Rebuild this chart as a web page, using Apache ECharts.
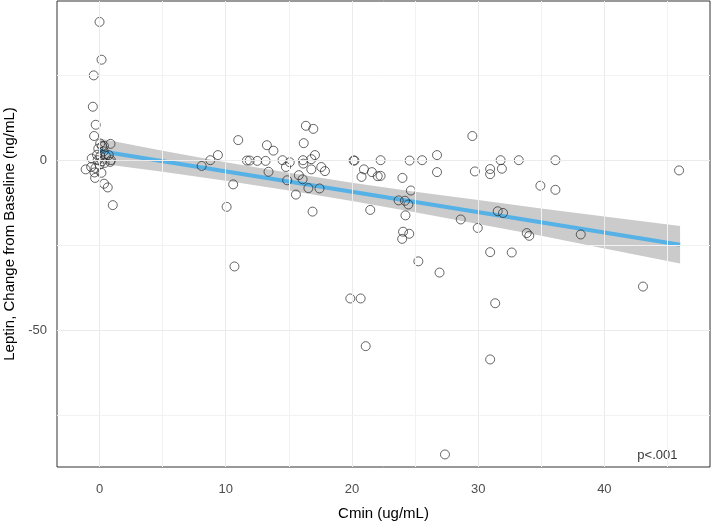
<!DOCTYPE html>
<html>
<head>
<meta charset="utf-8">
<script src="https://cdn.jsdelivr.net/npm/echarts@6/dist/echarts.min.js"></script>
<style>html,body{margin:0;padding:0;background:#fff}#c{width:712px;height:523px}</style>
</head>
<body>
<div id="c"></div>
<script>
// Observed points: [Cmin (ug/mL), Leptin change (ng/mL)]
const pointsNearZero = [
  [0.0,40.6],[0.16,29.5],[-0.46,24.9],[-0.53,15.7],[-0.3,10.4],[-0.43,7.1],[0.87,4.8],[0.05,4.9],
  [0.2,4.1],[0.35,4.2],[-0.1,3.4],[0.33,2.6],[-0.2,1.6],[-0.62,0.5],[0.07,1.2],[0.5,1.3],
  [0.73,1.5],[-0.15,0],[0.2,-0.3],[0.85,-0.5],[0.9,0],[-0.66,-2.0],[-1.1,-2.7],[-0.32,-2.3],
  [0.0,-1.3],[0.4,-0.8],[-0.4,-3.6],[0.15,-3.7],[-0.35,-5.2],[0.36,-6.9],[0.65,-8.0],[1.05,-13.2]
];
const pointsRest = [
  [8.09,-1.7],[8.78,0],[9.38,1.5],[10.99,5.9],[10.07,-13.7],[10.59,-7.1],[10.69,-31.2],
  [11.68,-0.1],[11.9,-0.1],[12.5,-0.2],[13.16,-0.2],[13.26,4.4],[13.78,2.8],[13.39,-3.4],
  [14.5,0],[14.77,-2.0],[15.07,-0.6],[14.87,-5.9],[15.56,-10.1],[15.79,-4.4],[16.09,-5.6],
  [16.12,0],[16.15,-1.0],[16.18,5.0],[16.35,10.1],[16.94,9.2],[16.78,0.3],[17.07,1.5],
  [16.78,-2.7],[16.55,-8.2],[16.88,-15.1],[17.43,-8.3],[17.57,-2.0],[17.86,-3.2],
  [20.13,-0.1],[20.2,-0.1],[19.87,-40.6],[20.69,-40.6],[21.09,-54.6],[20.95,-2.7],[20.76,-4.9],
  [21.58,-3.5],[21.45,-14.6],[22.04,-4.7],[22.27,-4.6],[22.27,0],[24.0,-5.2],[23.7,-11.8],
  [24.2,-11.9],[24.47,-13.0],[24.24,-16.2],[24.05,-21.0],[23.98,-23.1],[24.54,-21.6],
  [24.57,-0.1],[24.67,-8.9],[25.26,-29.7],[25.56,0],[26.74,1.5],[26.74,-3.5],[26.94,-33.0],
  [27.37,-86.4],[28.62,-17.4],[29.54,7.1],[29.74,-3.3],[29.97,-19.9],[30.95,-2.6],[30.95,-4.1],
  [30.95,-27.0],[30.95,-58.5],[31.35,-42.0],[31.55,-15.0],[31.97,-15.5],[31.78,0],[31.88,-2.5],
  [32.66,-27.1],[33.22,0],[33.85,-21.4],[34.05,-22.2],[34.93,-7.5],[36.12,0],[36.12,-8.7],
  [38.13,-21.8],[43.06,-37.1],[45.92,-3.0]
];
// Fitted regression line and its confidence band
const fitX = [0, 46];
const fitY = [2.7, -24.8];
const bandX = [0, 5, 10, 15, 20, 25, 30, 35, 40, 46];
const bandUpper = [6.4, 2.8, -0.6, -3.7, -6.6, -9.3, -11.7, -14.2, -16.5, -19.3];
const bandLower = [-1.0, -3.4, -6.0, -8.9, -12.0, -15.3, -18.7, -22.2, -25.9, -30.3];
// Axis ticks
const xTicks = [0, 10, 20, 30, 40];
const xMinor = [5, 15, 25, 35, 45];
const yTicks = [-50, 0];
const yMinor = [-75, -25, 25];
const annotationText = 'p<.001';
const annotationPos = [44.2, -86.6];

const FONT = '"Liberation Sans", Arial, sans-serif';
const chart = echarts.init(document.getElementById('c'), null, {renderer: 'canvas'});

const gridLines = [];
xTicks.forEach(v => gridLines.push({xAxis: v, lineStyle: {color: '#EBEBEB', width: 1, type: 'solid'}}));
xMinor.forEach(v => gridLines.push({xAxis: v, lineStyle: {color: '#F2F2F2', width: 1, type: 'solid'}}));
yTicks.forEach(v => gridLines.push({yAxis: v, lineStyle: {color: '#EBEBEB', width: 1, type: 'solid'}}));
yMinor.forEach(v => gridLines.push({yAxis: v, lineStyle: {color: '#F2F2F2', width: 1, type: 'solid'}}));

const option = {
  animation: false,
  textStyle: {fontFamily: FONT},
  grid: {left: 57, top: 1, right: 2, bottom: 56, outerBoundsMode: 'none', containLabel: false,
         show: true, borderColor: '#333333', borderWidth: 1, backgroundColor: '#fff'},
  xAxis: {
    type: 'value', min: -3.37, max: 48.37,
    name: 'Cmin (ug/mL)', nameLocation: 'middle', nameGap: 39,
    nameTextStyle: {fontSize: 15, color: '#000', fontFamily: FONT},
    axisLine: {show: false},
    axisTick: {show: true, length: 4, customValues: xTicks, lineStyle: {color: '#333333'}},
    axisLabel: {customValues: xTicks, color: '#4D4D4D', fontSize: 13, margin: 16, fontFamily: FONT},
    splitLine: {show: false}
  },
  yAxis: {
    type: 'value', min: -90.08, max: 46.74,
    name: 'Leptin, Change from Baseline (ng/mL)', nameLocation: 'middle', nameGap: 33,
    nameTextStyle: {fontSize: 15, color: '#000', fontFamily: FONT},
    axisLine: {show: false},
    axisTick: {show: true, length: 4, customValues: yTicks, lineStyle: {color: '#333333'}},
    axisLabel: {customValues: yTicks, color: '#4D4D4D', fontSize: 13, margin: 10, fontFamily: FONT},
    splitLine: {show: false}
  },
  series: [
    {
      type: 'line', data: [], z: 0, silent: true,
      markLine: {silent: true, symbol: ['none', 'none'], label: {show: false}, animation: false, data: gridLines}
    },
    {
      type: 'custom', z: 1, silent: true,
      data: bandX.map((x, i) => [x, bandUpper[i], bandLower[i]]),
      encode: {x: 0, y: [1, 2]},
      renderItem: function (params, api) {
        if (params.dataIndex !== 0) return null;
        const pts = [];
        for (let i = 0; i < bandX.length; i++) pts.push(api.coord([bandX[i], bandUpper[i]]));
        for (let i = bandX.length - 1; i >= 0; i--) pts.push(api.coord([bandX[i], bandLower[i]]));
        return {type: 'polygon', shape: {points: pts}, style: {fill: '#CBCBCB'}};
      }
    },
    {
      type: 'line', z: 2, silent: true, symbol: 'none',
      data: fitX.map((x, i) => [x, fitY[i]]),
      lineStyle: {color: '#56B1E6', width: 4}
    },
    {
      type: 'scatter', z: 3, symbol: 'circle', symbolSize: 9,
      data: pointsNearZero.concat(pointsRest),
      itemStyle: {color: 'rgba(0,0,0,0)', borderColor: '#2a2a2a', borderWidth: 0.9}
    },
    {
      type: 'scatter', z: 4, symbolSize: 1, silent: true,
      data: [annotationPos],
      itemStyle: {color: 'rgba(0,0,0,0)'},
      label: {show: true, position: 'inside', formatter: annotationText, color: '#000', fontSize: 13, fontFamily: FONT}
    }
  ]
};
chart.setOption(option);
</script>
</body>
</html>
